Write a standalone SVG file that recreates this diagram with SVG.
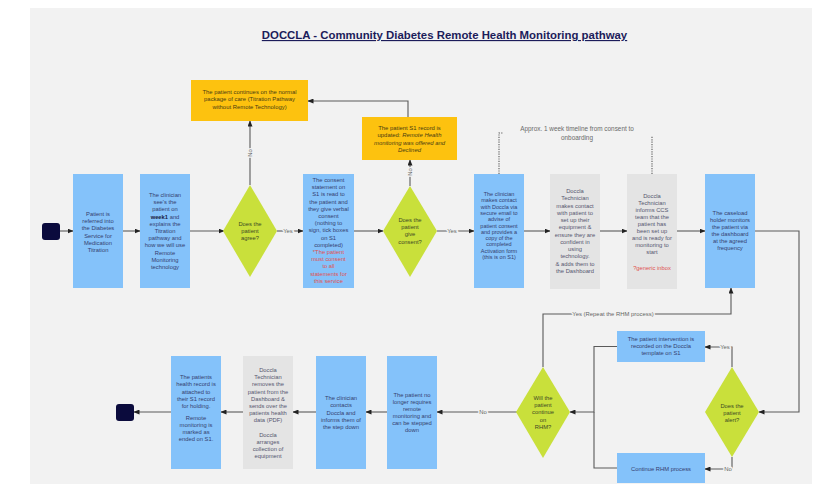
<svg xmlns="http://www.w3.org/2000/svg" width="815" height="484" viewBox="0 0 815 484">
<defs>
<marker id="ah" markerUnits="userSpaceOnUse" markerWidth="6" markerHeight="5" refX="5.5" refY="2.5" orient="auto"><path d="M0,0 L6,2.5 L0,5 z" fill="#222"/></marker>
<style>
.bg{fill:#f2f2f2}
.blue{fill:#84c2fa}
.gray{fill:#e4e4e4}
.org{fill:#fdc20f}
.dia{fill:#c9e03b}
.term{fill:#0b0b3d}
text{font-family:"Liberation Sans",Arial,sans-serif;text-anchor:middle}
.tb{font-size:5.8px;fill:#34406f}
.tg{font-size:5.8px;fill:#55566f}
.to{font-size:5.9px;fill:#4a3d12}
.td{font-size:5.8px;fill:#3f4a24}
.red{fill:#e0504f}
.lbl{font-size:5.9px;fill:#666;paint-order:stroke;stroke:#f2f2f2;stroke-width:3px}
.con path{fill:none;stroke:#5a5a5a;stroke-width:1.1}
.dot{fill:none;stroke:#55559a;stroke-width:1;stroke-dasharray:1.2,1.2}
</style>
</defs>
<rect class="bg" x="30" y="8" width="782" height="476"/>
<text x="444.5" y="39" style="font-size:11.4px;font-weight:bold;fill:#1c1c5a;text-decoration:underline">DOCCLA - Community Diabetes Remote Health Monitoring pathway</text>

<g class="con">
<path d="M60,231 H73" marker-end="url(#ah)"/>
<path d="M123,231 H140" marker-end="url(#ah)"/>
<path d="M190,231 H224" marker-end="url(#ah)"/>
<path d="M277,231 H303" marker-end="url(#ah)"/>
<path d="M250,185 V121" marker-end="url(#ah)"/>
<path d="M354,231 H383" marker-end="url(#ah)"/>
<path d="M410,186 V160" marker-end="url(#ah)"/>
<path d="M408,117 V101 H308" marker-end="url(#ah)"/>
<path d="M437,231 H474" marker-end="url(#ah)"/>
<path d="M524,231 H550" marker-end="url(#ah)"/>
<path d="M600,231 H627" marker-end="url(#ah)"/>
<path d="M677,231 H705" marker-end="url(#ah)"/>
<path d="M755,231 H799 V412 H759" marker-end="url(#ah)"/>
<path d="M732,367 V347 H705" marker-end="url(#ah)"/>
<path d="M732,457 V469 H705" marker-end="url(#ah)"/>
<path d="M617,346.5 H594 V412 H570" marker-end="url(#ah)"/>
<path d="M617,468 H594 V412"/>
<path d="M543,367 V314 H731 V288" marker-end="url(#ah)"/>
<path d="M517,412 H437" marker-end="url(#ah)"/>
<path d="M387,412 H366" marker-end="url(#ah)"/>
<path d="M316,412 H293" marker-end="url(#ah)"/>
<path d="M243,412 H221" marker-end="url(#ah)"/>
<path d="M171,412 H134" marker-end="url(#ah)"/>
<path class="dot" d="M499,174 V133 H503"/>
<path class="dot" d="M652,174 V136"/>
<text class="lbl" x="288" y="233">Yes</text>
<text class="lbl" x="452" y="233">Yes</text>
<text class="lbl" transform="translate(252,153) rotate(-90)">No</text>
<text class="lbl" transform="translate(412,172) rotate(-90)">No</text>
<text class="lbl" x="613" y="316">Yes (Repeat the RHM process)</text>
<text class="lbl" x="725" y="349">Yes</text>
<text class="lbl" x="728" y="471">No</text>
<text class="lbl" x="483" y="414">No</text>
<text style="font-size:6.4px;fill:#6a6a6a" x="577" y="131">Approx. 1 week timeline from consent to<tspan x="577" dy="9">onboarding</tspan></text>
</g>

<g id="start"><rect class="term" x="42" y="223" width="18" height="17" rx="3"/></g>

<g id="referred"><rect class="blue" x="73" y="174" width="50" height="114"/>
<text class="tb" x="98" y="216"><tspan x="98">Patient is</tspan><tspan x="98" dy="7.2">referred into</tspan><tspan x="98" dy="7.2">the Diabetes</tspan><tspan x="98" dy="7.2">Service for</tspan><tspan x="98" dy="7.2">Medication</tspan><tspan x="98" dy="7.2">Titration</tspan></text></g>

<g id="week1"><rect class="blue" x="140" y="174" width="50" height="114"/>
<text class="tb" x="165" y="197"><tspan x="165">The clinician</tspan><tspan x="165" dy="7.2">see's the</tspan><tspan x="165" dy="7.2">patient on</tspan><tspan x="165" dy="7.2"><tspan font-weight="bold" fill="#1a1a40">week1</tspan> and</tspan><tspan x="165" dy="7.2">explains the</tspan><tspan x="165" dy="7.2">Titration</tspan><tspan x="165" dy="7.2">pathway and</tspan><tspan x="165" dy="7.2">how we will use</tspan><tspan x="165" dy="7.2">Remote</tspan><tspan x="165" dy="7.2">Monitoring</tspan><tspan x="165" dy="7.2">technology</tspan></text></g>

<g id="agree"><path class="dia" d="M250,185 L277,231 L250,277 L223,231 z"/>
<text class="td" x="250" y="226"><tspan x="250">Does the</tspan><tspan x="250" dy="7.2">patient</tspan><tspan x="250" dy="7.2">agree?</tspan></text></g>

<g id="normal-care"><rect class="org" x="191" y="80" width="117" height="41"/>
<text class="to" x="249.5" y="93.7"><tspan x="249.5">The patient continues on the normal</tspan><tspan x="249.5" dy="7.5">package of care (Titration Pathway</tspan><tspan x="249.5" dy="7.5">without Remote Technology)</tspan></text></g>

<g id="consent-statement"><rect class="blue" x="303" y="174" width="51" height="114"/>
<text class="tb" x="328.5" y="182"><tspan x="328.5">The consent</tspan><tspan x="328.5" dy="7.2">statement on</tspan><tspan x="328.5" dy="7.2">S1 is read to</tspan><tspan x="328.5" dy="7.2">the patient and</tspan><tspan x="328.5" dy="7.2">they give verbal</tspan><tspan x="328.5" dy="7.2">consent</tspan><tspan x="328.5" dy="7.2">(nothing to</tspan><tspan x="328.5" dy="7.2">sign, tick boxes</tspan><tspan x="328.5" dy="7.2">on S1</tspan><tspan x="328.5" dy="7.2">completed)</tspan><tspan class="red" x="328.5" dy="7.2">*The patient</tspan><tspan class="red" x="328.5" dy="7.2">must consent</tspan><tspan class="red" x="328.5" dy="7.2">to all</tspan><tspan class="red" x="328.5" dy="7.2">statements for</tspan><tspan class="red" x="328.5" dy="7.2">this service</tspan></text></g>

<g id="give-consent"><path class="dia" d="M410,186 L437,231 L410,277 L383,231 z"/>
<text class="td" x="410" y="221.5"><tspan x="410">Does the</tspan><tspan x="410" dy="7.4">patient</tspan><tspan x="410" dy="7.4">give</tspan><tspan x="410" dy="7.4">consent?</tspan></text></g>

<g id="declined"><rect class="org" x="362" y="117" width="95" height="43"/>
<text class="to" x="409.5" y="130"><tspan x="409.5">The patient S1 record is</tspan><tspan x="409.5" dy="7.3">updated: <tspan font-style="italic">Remote Health</tspan></tspan><tspan x="409.5" dy="7.3" font-style="italic">monitoring was offered and</tspan><tspan x="409.5" dy="7.3" font-style="italic">Declined</tspan></text></g>

<g id="email-doccla"><rect class="blue" x="474" y="174" width="50" height="114"/>
<text class="tb" style="font-size:5.5px" x="499" y="196"><tspan x="499">The clinician</tspan><tspan x="499" dy="6.3">makes contact</tspan><tspan x="499" dy="6.3">with Doccla via</tspan><tspan x="499" dy="6.3">secure email to</tspan><tspan x="499" dy="6.3">advise of</tspan><tspan x="499" dy="6.3">patient consent</tspan><tspan x="499" dy="6.3">and provides a</tspan><tspan x="499" dy="6.3">copy of the</tspan><tspan x="499" dy="6.3">completed</tspan><tspan x="499" dy="6.3">Activation form</tspan><tspan x="499" dy="6.3">(this is on S1)</tspan></text></g>

<g id="tech-setup"><rect class="gray" x="550" y="174" width="50" height="115"/>
<text class="tg" x="575" y="193"><tspan x="575">Doccla</tspan><tspan x="575" dy="7.27">Technician</tspan><tspan x="575" dy="7.27">makes contact</tspan><tspan x="575" dy="7.27">with patient to</tspan><tspan x="575" dy="7.27">set up their</tspan><tspan x="575" dy="7.27">equipment &amp;</tspan><tspan x="575" dy="7.27">ensure they are</tspan><tspan x="575" dy="7.27">confident in</tspan><tspan x="575" dy="7.27">using</tspan><tspan x="575" dy="7.27">technology.</tspan><tspan x="575" dy="7.27">&amp; adds them to</tspan><tspan x="575" dy="7.27">the Dashboard</tspan></text></g>

<g id="tech-inform"><rect class="gray" x="627" y="174" width="50" height="115"/>
<text class="tg" x="652" y="198"><tspan x="652">Doccla</tspan><tspan x="652" dy="7">Technician</tspan><tspan x="652" dy="7">informs CCS</tspan><tspan x="652" dy="7">team that the</tspan><tspan x="652" dy="7">patient has</tspan><tspan x="652" dy="7">been set up</tspan><tspan x="652" dy="7">and is ready for</tspan><tspan x="652" dy="7">monitoring to</tspan><tspan x="652" dy="7">start</tspan><tspan class="red" x="652" dy="16">?generic inbox</tspan></text></g>

<g id="caseload"><rect class="blue" x="705" y="174" width="50" height="114"/>
<text class="tb" x="730" y="215"><tspan x="730">The caseload</tspan><tspan x="730" dy="7">holder monitors</tspan><tspan x="730" dy="7">the patient via</tspan><tspan x="730" dy="7">the dashboard</tspan><tspan x="730" dy="7">at the agreed</tspan><tspan x="730" dy="7">frequency</tspan></text></g>

<g id="alert"><path class="dia" d="M732,367 L759,412 L732,457 L705,412 z"/>
<text class="td" x="732" y="408"><tspan x="732">Does the</tspan><tspan x="732" dy="7">patient</tspan><tspan x="732" dy="7">alert?</tspan></text></g>

<g id="intervention"><rect class="blue" x="617" y="331" width="88" height="31"/>
<text class="tb" x="661" y="341"><tspan x="661">The patient intervention is</tspan><tspan x="661" dy="7">recorded on the Doccla</tspan><tspan x="661" dy="7">template on S1</tspan></text></g>

<g id="continue-rhm"><rect class="blue" x="617" y="453" width="88" height="30"/>
<text class="tb" x="661" y="471">Continue RHM process</text></g>

<g id="will-continue"><path class="dia" d="M543,367 L570,412 L543,458 L516,412 z"/>
<text class="td" x="543" y="400"><tspan x="543">Will the</tspan><tspan x="543" dy="7.2">patient</tspan><tspan x="543" dy="7.2">continue</tspan><tspan x="543" dy="7.2">on</tspan><tspan x="543" dy="7.2">RHM?</tspan></text></g>

<g id="no-longer"><rect class="blue" x="387" y="356" width="50" height="113"/>
<text class="tb" x="412" y="397"><tspan x="412">The patient no</tspan><tspan x="412" dy="7">longer requires</tspan><tspan x="412" dy="7">remote</tspan><tspan x="412" dy="7">monitoring and</tspan><tspan x="412" dy="7">can be stepped</tspan><tspan x="412" dy="7">down</tspan></text></g>

<g id="step-down"><rect class="blue" x="316" y="356" width="50" height="113"/>
<text class="tb" x="341" y="400"><tspan x="341">The clinician</tspan><tspan x="341" dy="7.3">contacts</tspan><tspan x="341" dy="7.3">Doccla and</tspan><tspan x="341" dy="7.3">informs them of</tspan><tspan x="341" dy="7.3">the step down</tspan></text></g>

<g id="tech-remove"><rect class="gray" x="243" y="356" width="50" height="113"/>
<text class="tg" x="268" y="372"><tspan x="268">Doccla</tspan><tspan x="268" dy="7.2">Technician</tspan><tspan x="268" dy="7.2">removes the</tspan><tspan x="268" dy="7.2">patient from the</tspan><tspan x="268" dy="7.2">Dashboard &amp;</tspan><tspan x="268" dy="7.2">sends over the</tspan><tspan x="268" dy="7.2">patients health</tspan><tspan x="268" dy="7.2">data (PDF)</tspan><tspan x="268" dy="14.4">Doccla</tspan><tspan x="268" dy="7.2">arranges</tspan><tspan x="268" dy="7.2">collection of</tspan><tspan x="268" dy="7.2">equipment</tspan></text></g>

<g id="record-attached"><rect class="blue" x="171" y="356" width="50" height="113"/>
<text class="tb" x="196" y="379"><tspan x="196">The patients</tspan><tspan x="196" dy="7.3">health record is</tspan><tspan x="196" dy="7.3">attached to</tspan><tspan x="196" dy="7.3">their S1 record</tspan><tspan x="196" dy="7.3">for holding.</tspan><tspan x="196" dy="12">Remote</tspan><tspan x="196" dy="7">monitoring is</tspan><tspan x="196" dy="7">marked as</tspan><tspan x="196" dy="7">ended on S1.</tspan></text></g>

<g id="end"><rect class="term" x="116" y="404" width="18" height="17" rx="3"/></g>
</svg>
